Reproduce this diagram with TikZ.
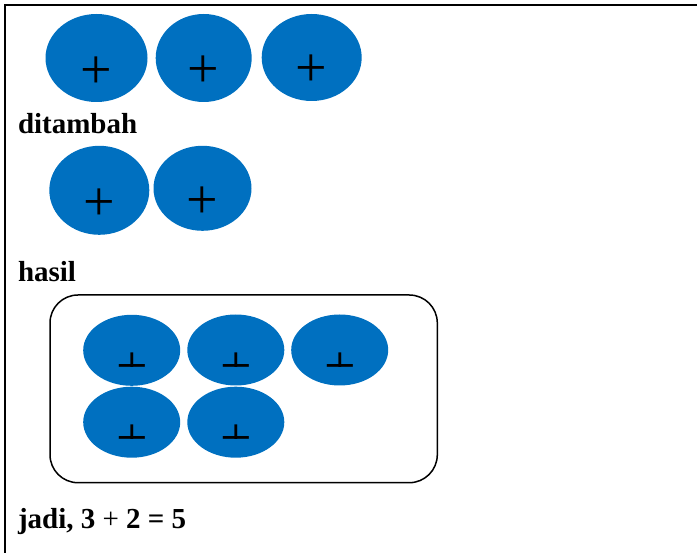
\documentclass[tikz,border=0pt]{standalone}
\usepackage{fontspec}
\setmainfont{Liberation Serif}
\usetikzlibrary{shapes.geometric}
\definecolor{beadblue}{RGB}{0,112,192}

\begin{document}
\begin{tikzpicture}[x=1pt, y=1pt, yscale=-1, inner sep=0pt, outer sep=0pt,
  bead/.style={ellipse, fill=beadblue, draw=none},
  sign/.style={anchor=base, font=\fontsize{56}{56}\selectfont},
  caption/.style={anchor=base west, font=\fontsize{29}{34}\selectfont\bfseries}]

  \useasboundingbox (0,0) rectangle (697,553);

  % frame
  \path[draw=black,line width=2pt] (697,5) -- (5,5) -- (5,553);

  % first row
  \path (96.5,58)  node[bead,minimum width=102,minimum height=88] (path3012) {};
  \path (203.7,58) node[bead,minimum width=96,minimum height=88]  (path3014) {};
  \path (311.7,57.5) node[bead,minimum width=100,minimum height=87] (path3016) {};
  \path (96,88.3)  node[sign] (text3018) {+};
  \path (203.5,87.5) node[sign] (text3020) {+};
  \path (311,87) node[sign] (text3022) {+};

  \path (18,133.3) node[caption] (text3024) {ditambah};

  % second row
  \path (99.3,190.3) node[bead,minimum width=100,minimum height=89] (path3026) {};
  \path (202.5,188.3) node[bead,minimum width=98,minimum height=85] (path3028) {};
  \path (99.2,220.3) node[sign] (text3030) {+};
  \path (202.5,218.5)  node[sign] (text3032) {+};

  \path (18,281.7) node[caption] (text3034) {hasil};

  % result box
  \path[draw=black,line width=1.5pt,rounded corners=28pt] (50,295) rectangle (437.3,482.7);

  \path (131.7,350.3) node[bead,minimum width=97,minimum height=71] (path3036) {};
  \path (235.8,350)   node[bead,minimum width=97,minimum height=71] (path3038) {};
  \path (339.7,350)   node[bead,minimum width=97,minimum height=71] (path3040) {};
  \path (131.7,422.2) node[bead,minimum width=97,minimum height=71] (path3042) {};
  \path (235.8,422.2) node[bead,minimum width=97,minimum height=71] (path3044) {};

  % signs cut at the bar
  \begin{scope}
    \clip (50,295) rectangle (437,367);
    \path (132,384.8) node[sign] (text3046) {+};
    \path (236,384.8) node[sign] (text3048) {+};
    \path (340,384.8) node[sign] (text3050) {+};
  \end{scope}
  \begin{scope}
    \clip (50,390) rectangle (437,438.6);
    \path (132,456.5) node[sign] (text3052) {+};
    \path (236,456.5) node[sign] (text3054) {+};
  \end{scope}

  \path (18,528.5) node[caption] (text3056) {jadi, 3 {\mdseries+} 2 = 5};

\end{tikzpicture}
\end{document}
